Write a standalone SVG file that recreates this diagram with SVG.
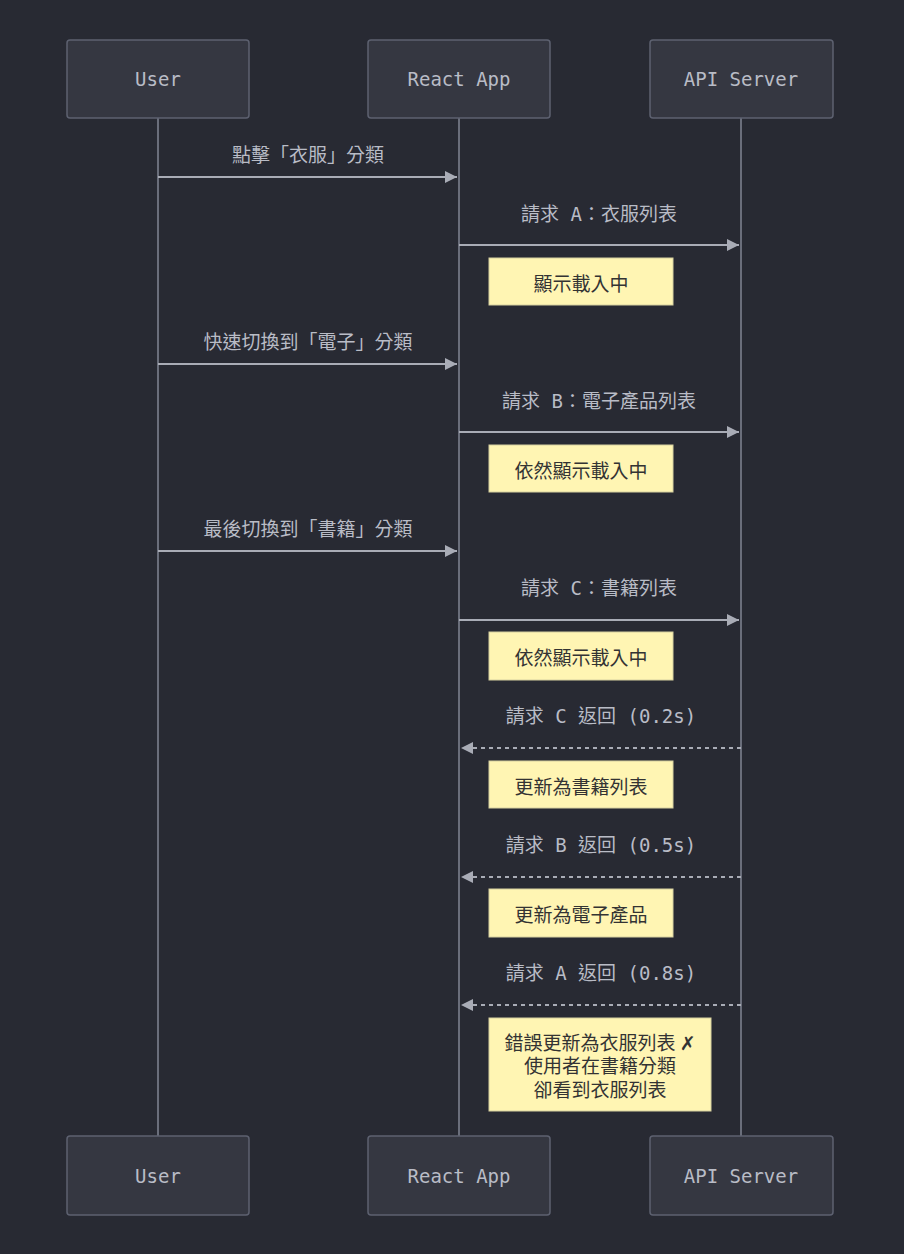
<svg xmlns="http://www.w3.org/2000/svg" width="904" height="1254" viewBox="0 0 904 1254">
<style>
.actor rect{fill:#353741;stroke:#5d6170;stroke-width:1.5}
.actor text{font-family:"DejaVu Sans Mono","Noto Sans CJK TC",monospace;font-size:19px;fill:#b9bcc6;text-anchor:middle;dominant-baseline:central}
.life{stroke:#6a6e7b;stroke-width:2}
.msg{stroke:#a9acb6;stroke-width:2;fill:none}
.dash{stroke-dasharray:4 4}
.lbl{font-family:"DejaVu Sans Mono","Noto Sans CJK TC",monospace;font-size:19px;fill:#b9bcc6;text-anchor:middle}
.note rect{fill:#fff5b3;stroke:#d6d0a0;stroke-width:1}
.note text{font-family:"Noto Sans CJK TC","DejaVu Sans",sans-serif;font-size:19px;fill:#333;text-anchor:middle;dominant-baseline:central}
</style>
<defs>
<marker id="ah" viewBox="0 0 12 12" refX="12" refY="6" markerWidth="12" markerHeight="12" markerUnits="userSpaceOnUse" orient="auto"><path d="M0,0 L12,6 L0,12 z" fill="#a9acb6"/></marker>
</defs>
<rect width="904" height="1254" fill="#282a33"/>
<g id="lifelines">
<line class="life" x1="158" y1="118" x2="158" y2="1136"/>
<line class="life" x1="459" y1="118" x2="459" y2="1136"/>
<line class="life" x1="741" y1="118" x2="741" y2="1136"/>
</g>
<g id="actor-user-top" class="actor"><rect x="67" y="40" width="182" height="78" rx="3"/><text x="158" y="79">User</text></g>
<g id="actor-react-top" class="actor"><rect x="368" y="40" width="182" height="78" rx="3"/><text x="459" y="79">React App</text></g>
<g id="actor-api-top" class="actor"><rect x="650" y="40" width="183" height="78" rx="3"/><text x="741" y="79">API Server</text></g>
<g id="actor-user-bottom" class="actor"><rect x="67" y="1136" width="182" height="79" rx="3"/><text x="158" y="1176">User</text></g>
<g id="actor-react-bottom" class="actor"><rect x="368" y="1136" width="182" height="79" rx="3"/><text x="459" y="1176">React App</text></g>
<g id="actor-api-bottom" class="actor"><rect x="650" y="1136" width="183" height="79" rx="3"/><text x="741" y="1176">API Server</text></g>
<g id="connectors">
<line class="msg" x1="158" y1="177" x2="457" y2="177" marker-end="url(#ah)"/>
<text class="lbl" x="308" y="162">點擊「衣服」分類</text>
<line class="msg" x1="459" y1="245" x2="739" y2="245" marker-end="url(#ah)"/>
<text class="lbl" x="599" y="221">請求 A：衣服列表</text>
<line class="msg" x1="158" y1="364" x2="457" y2="364" marker-end="url(#ah)"/>
<text class="lbl" x="308" y="349">快速切換到「電子」分類</text>
<line class="msg" x1="459" y1="432" x2="739" y2="432" marker-end="url(#ah)"/>
<text class="lbl" x="599" y="408">請求 B：電子產品列表</text>
<line class="msg" x1="158" y1="551" x2="457" y2="551" marker-end="url(#ah)"/>
<text class="lbl" x="308" y="536">最後切換到「書籍」分類</text>
<line class="msg" x1="459" y1="620" x2="739" y2="620" marker-end="url(#ah)"/>
<text class="lbl" x="599" y="595">請求 C：書籍列表</text>
<line class="msg dash" x1="741" y1="748" x2="461" y2="748" marker-end="url(#ah)"/>
<text class="lbl" x="601" y="723">請求 C 返回 (0.2s)</text>
<line class="msg dash" x1="741" y1="877" x2="461" y2="877" marker-end="url(#ah)"/>
<text class="lbl" x="601" y="852">請求 B 返回 (0.5s)</text>
<line class="msg dash" x1="741" y1="1005" x2="461" y2="1005" marker-end="url(#ah)"/>
<text class="lbl" x="601" y="980">請求 A 返回 (0.8s)</text>
</g>
<g id="note1" class="note"><rect x="489" y="258" width="184" height="47"/><text x="581" y="282">顯示載入中</text></g>
<g id="note2" class="note"><rect x="489" y="445" width="184" height="47"/><text x="581" y="469">依然顯示載入中</text></g>
<g id="note3" class="note"><rect x="489" y="632" width="184" height="48"/><text x="581" y="656">依然顯示載入中</text></g>
<g id="note4" class="note"><rect x="489" y="761" width="184" height="47"/><text x="581" y="785">更新為書籍列表</text></g>
<g id="note5" class="note"><rect x="489" y="889" width="184" height="48"/><text x="581" y="913">更新為電子產品</text></g>
<g id="note6" class="note"><rect x="489" y="1018" width="222" height="93"/><text x="600" y="1041">錯誤更新為衣服列表 ✗</text><text x="600" y="1064">使用者在書籍分類</text><text x="600" y="1088">卻看到衣服列表</text></g>
</svg>
